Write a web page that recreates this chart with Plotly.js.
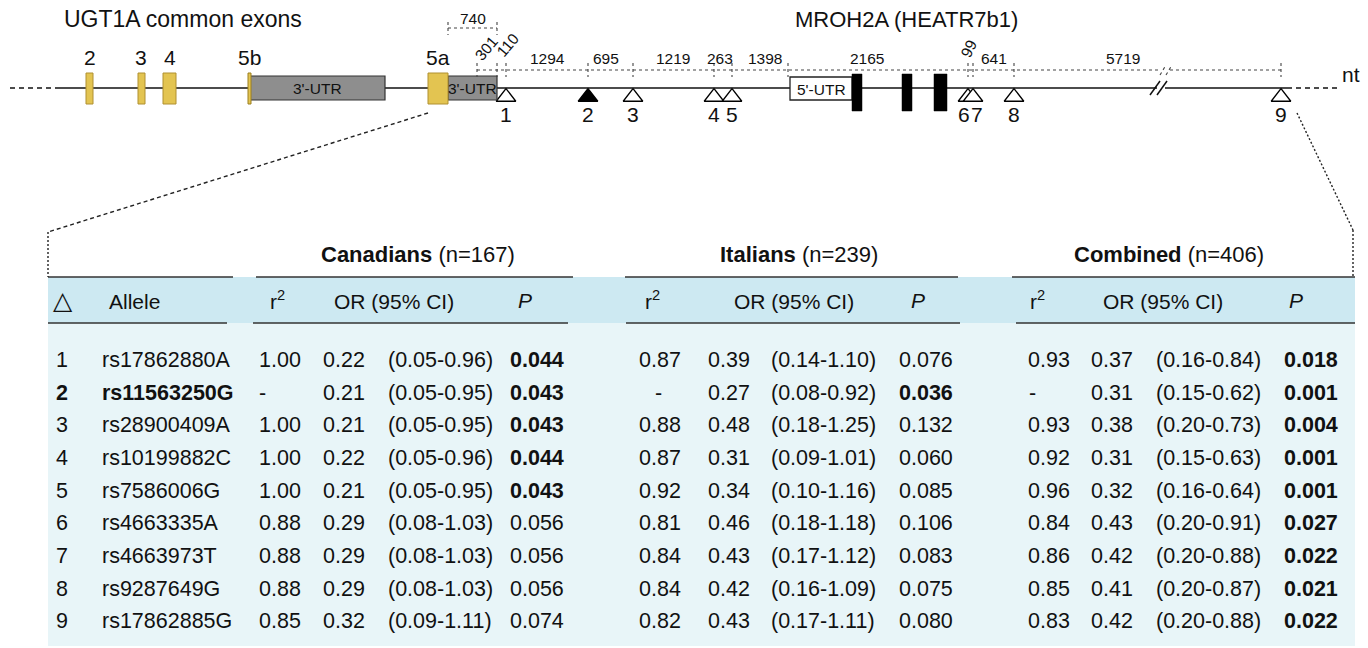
<!DOCTYPE html>
<html><head><meta charset="utf-8">
<script src="https://cdn.plot.ly/plotly-3.0.1.min.js"></script>
<style>html,body{margin:0;padding:0;background:#fff}#chart{width:1368px;height:648px}</style>
</head><body><div id="chart"></div>
<script>
// ================= DATA =================
const snpIds   = ['1','2','3','4','5','6','7','8','9'];
const alleles  = ['rs17862880A','rs11563250G','rs28900409A','rs10199882C','rs7586006G','rs4663335A','rs4663973T','rs9287649G','rs17862885G'];
const tagSnp   = 1; // rs11563250G (filled triangle, reference SNP)

const canR2 = ['1.00','-','1.00','1.00','1.00','0.88','0.88','0.88','0.85'];
const canOR = ['0.22','0.21','0.21','0.22','0.21','0.29','0.29','0.29','0.32'];
const canCI = ['(0.05-0.96)','(0.05-0.95)','(0.05-0.95)','(0.05-0.96)','(0.05-0.95)','(0.08-1.03)','(0.08-1.03)','(0.08-1.03)','(0.09-1.11)'];
const canP  = ['0.044','0.043','0.043','0.044','0.043','0.056','0.056','0.056','0.074'];

const itaR2 = ['0.87','-','0.88','0.87','0.92','0.81','0.84','0.84','0.82'];
const itaOR = ['0.39','0.27','0.48','0.31','0.34','0.46','0.43','0.42','0.43'];
const itaCI = ['(0.14-1.10)','(0.08-0.92)','(0.18-1.25)','(0.09-1.01)','(0.10-1.16)','(0.18-1.18)','(0.17-1.12)','(0.16-1.09)','(0.17-1.11)'];
const itaP  = ['0.076','0.036','0.132','0.060','0.085','0.106','0.083','0.075','0.080'];

const comR2 = ['0.93','-','0.93','0.92','0.96','0.84','0.86','0.85','0.83'];
const comOR = ['0.37','0.31','0.38','0.31','0.32','0.43','0.42','0.41','0.42'];
const comCI = ['(0.16-0.84)','(0.15-0.62)','(0.20-0.73)','(0.15-0.63)','(0.16-0.64)','(0.20-0.91)','(0.20-0.88)','(0.20-0.87)','(0.20-0.88)'];
const comP  = ['0.018','0.001','0.004','0.001','0.001','0.027','0.022','0.021','0.022'];

const groupNames = ['Canadians','Italians','Combined'];
const groupN     = [167, 239, 406];

const distances  = [301,110,1294,695,1219,263,1398,2165,99,641,5719]; // nt between marks
const span740    = 740;
const exonLabels = ['2','3','4','5b','5a'];
const geneLeft   = 'UGT1A common exons';
const geneRight  = 'MROH2A (HEATR7b1)';

// ================= LAYOUT (diagram geometry, styles) =================
const FONT = 'Liberation Sans, Arial, Helvetica, sans-serif';
const INK = '#111';
const lineY = 88, dotY = 70;
const segEdges = [477,497,506,588,633,714,732,788,968,973,1014,1281]; // schematic tick positions
const snpEdgeIdx = [2,3,4,5,6,8,9,10,11];
const distLabelX = [486,507,547,606,673,720,765,867,968,994,1123];
const distLabelY = [48,45,58,58,58,58,58,58,49,58,58];
const distLabelAng = [-50,-50,0,0,0,0,0,0,-65,0,0];
const yellowExons = [[86,93],[138,145],[163,176],[248,251],[428,448]];
const exonLabelX  = [90,141,170,249,438];
const grayUTR = [[250,385],[448,497]];
const blackExons = [[852,862],[902,912],[934,947]];
const utr5 = [790,852];

const rowY = [360,393,425,458,491,523,556,589,621];
const headY = 300, groupY = 254;
const tableTop = 277, tableHeadBottom = 323, tableBottom = 646, tableL = 48, tableR = 1355;
const groupCols = [
  {r2:257, or:321, ci:386, p:508, dash:257, hr2:277, hor:394, hp:525, title:418},
  {r2:637, or:706, ci:769, p:897, dash:653, hr2:652, hor:794, hp:918, title:799},
  {r2:1026,or:1089,ci:1154,p:1282,dash:1027,hr2:1037,hor:1163,hp:1296,title:1169}
];
const groupData = [[canR2,canOR,canCI,canP],[itaR2,itaOR,itaCI,itaP],[comR2,comOR,comCI,comP]];
const topRules = [[48,233],[256,573],[625,958],[1012,1355]];
const midRules = [[48,227],[253,568],[626,960],[1016,1355]];
const BODY = 21.5, HEAD = 21, TITLE = 22;

// ================= BUILD =================
const shapes = [];
const ann = [];
function L(x0,y0,x1,y1,o){ shapes.push({type:'line',xref:'x',yref:'y',x0,y0,x1,y1,line:Object.assign({color:INK,width:1.5},o||{}),layer:'above'}); }
function R(x0,y0,x1,y1,fill,lc,lw,layer){ shapes.push({type:'rect',xref:'x',yref:'y',x0,y0,x1,y1,fillcolor:fill,line:{color:lc||INK,width:lw==null?1.2:lw},layer:layer||'above'}); }
function T(x,y,text,size,o){ ann.push(Object.assign({x,y,xref:'x',yref:'y',text,showarrow:false,font:{family:FONT,size,color:INK},xanchor:'center',yanchor:'middle'},o||{})); }

// table backgrounds
R(tableL,tableTop,tableR,tableHeadBottom,'#cde9f2','rgba(0,0,0,0)',0,'below');
R(tableL,tableHeadBottom,tableR,tableBottom,'#e8f5f8','rgba(0,0,0,0)',0,'below');
topRules.forEach(s=>L(s[0],tableTop,s[1],tableTop,{width:1.6,color:'#333'}));
midRules.forEach(s=>L(s[0],tableHeadBottom,s[1],tableHeadBottom,{width:1.6,color:'#333'}));

// connectors
L(428,113,48,232,{dash:'4px,3px',width:1.4,color:'#222'});
L(48,232,48,277,{dash:'2px,2px',width:1.4,color:'#222'});
L(1297,113,1353,230,{dash:'2px,2px',width:1.4,color:'#222'});
L(1353,230,1353,277,{dash:'2px,2px',width:1.4,color:'#222'});

// main genomic line
L(10,lineY,55,lineY,{dash:'5px,4px'});
L(55,lineY,1157,lineY);
L(1165,lineY,1292,lineY);
L(1296,lineY,1340,lineY,{dash:'5px,4px'});
L(1150,95,1160,81,{width:1.5}); L(1157,95,1167,81,{width:1.5});
T(1351,74,'nt',21);

// exons & UTRs
grayUTR.forEach(u=>R(u[0],76,u[1],100,'#8e8e8e','#333',1.2));
yellowExons.forEach((e,i)=>R(e[0],73,e[1],104,'#e3c451', i===3 ? '#9b7f1e' : '#b09030',1));
R(utr5[0],77,utr5[1],100,'#ffffff','#222',1.3);
blackExons.forEach(e=>R(e[0],74,e[1],111,'#000','#000',0.5));
T((grayUTR[0][0]+grayUTR[0][1])/2,88,"3'-UTR",15.5);
T((grayUTR[1][0]+grayUTR[1][1])/2,88,"3'-UTR",15.5);
T((utr5[0]+utr5[1])/2,89,"5'-UTR",15.5);
exonLabels.forEach((t,i)=>T(exonLabelX[i],57,t,21));
T(183,19,geneLeft,23);
T(906,19,geneRight,TITLE);

// distance scale (dotted)
L(segEdges[0],dotY,1160,dotY,{dash:'dot',width:1.2,color:'#444'});
L(1170,dotY,segEdges[segEdges.length-1],dotY,{dash:'dot',width:1.2,color:'#444'});
L(1160,75,1166,65,{dash:'dot',width:1.1,color:'#444'}); L(1166,75,1172,65,{dash:'dot',width:1.1,color:'#444'});
segEdges.forEach(x=>L(x,dotY-7,x,dotY+7,{dash:'dot',width:1.1,color:'#444'}));
distances.forEach((d,i)=>{
  T(distLabelX[i], distLabelY[i], String(d), 15.5, {textangle:distLabelAng[i]});
});
// 740 bracket
L(448,28,497,28,{dash:'dot',width:1.2,color:'#444'});
L(448,22,448,35,{dash:'dot',width:1.1,color:'#444'});
L(497,22,497,35,{dash:'dot',width:1.1,color:'#444'});
T(473,18,String(span740),15.5);

// SNP triangles (markers) and labels
const snpX = snpEdgeIdx.map(k=>segEdges[k]);
snpX.forEach((x,i)=>T(x + (i===5?-4:(i===6?4:0)),114,snpIds[i],21));

// table header
groupNames.forEach((g,k)=>{
  const c = groupCols[k];
  T(c.title,groupY,'<b>'+g+'</b> (n='+groupN[k]+')',TITLE);
  T(c.hr2,headY,'r<sup>2</sup>',HEAD);
  T(c.hor,headY+1,'OR (95% CI)',HEAD);
  T(c.hp,headY,'<i>P</i>',HEAD);
});
T(63,headY,'△',25,{font:{family:'DejaVu Sans',size:25,color:INK}});
T(107,headY+1,'Allele',HEAD,{xanchor:'left'});

// table body
rowY.forEach((y,i)=>{
  const b = i===tagSnp;
  T(54,y,b?'<b>'+snpIds[i]+'</b>':snpIds[i],BODY,{xanchor:'left'});
  T(100,y,b?'<b>'+alleles[i]+'</b>':alleles[i],BODY,{xanchor:'left'});
  groupData.forEach((gd,k)=>{
    const c = groupCols[k];
    const r2 = gd[0][i];
    T(r2==='-'?c.dash:c.r2, y, r2, BODY, {xanchor:'left'});
    T(c.or, y, gd[1][i], BODY, {xanchor:'left'});
    T(c.ci, y, gd[2][i], BODY, {xanchor:'left'});
    const p = gd[3][i];
    T(c.p, y, parseFloat(p)<0.05 ? '<b>'+p+'</b>' : p, BODY, {xanchor:'left'});
  });
});

const traces = [{
  type:'scatter', mode:'markers',
  x: snpX, y: snpX.map(()=>lineY+9),
  marker:{symbol:'triangle-up', size:17,
    color: snpX.map((_,i)=> i===tagSnp ? '#000' : '#fff'),
    line:{color:'#000', width:1.3}},
  hoverinfo:'skip', cliponaxis:false
}];

const layout = {
  width:1368, height:648,
  margin:{l:0,r:0,t:0,b:0},
  paper_bgcolor:'#fff', plot_bgcolor:'#fff',
  xaxis:{range:[0,1368], visible:false, fixedrange:true},
  yaxis:{range:[648,0], visible:false, fixedrange:true},
  showlegend:false,
  shapes, annotations: ann
};
Plotly.newPlot('chart', traces, layout, {displayModeBar:false, staticPlot:true});
</script>
</body></html>
